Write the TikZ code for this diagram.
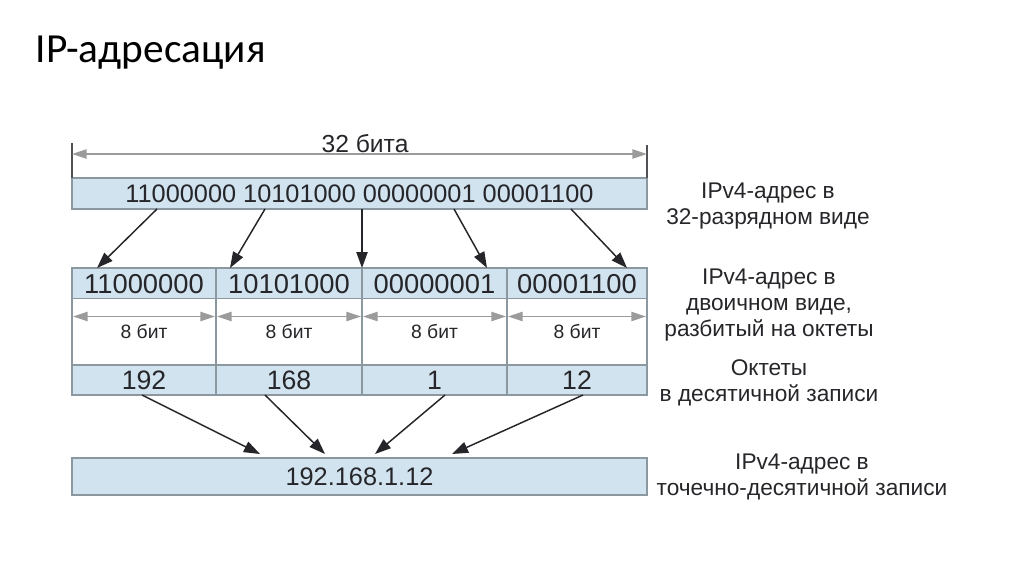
\documentclass[tikz,border=0pt]{standalone}
\usepackage{fontspec}
\setmainfont{Liberation Sans}
\newfontfamily\titlefont{Carlito}
\usetikzlibrary{calc,arrows.meta}

\definecolor{cellblue}{RGB}{209,227,239}
\definecolor{edgegray}{RGB}{140,152,160}
\definecolor{dimgray}{RGB}{155,155,155}
\definecolor{inkgray}{RGB}{38,38,42}

\begin{document}
\begin{tikzpicture}[x=0.75pt, y=-0.75pt,
  bar/.style={draw=edgegray, fill=cellblue, line width=1pt, inner sep=0pt, outer sep=0pt, text=inkgray,
              text height=10pt, text depth=0pt},
  blank/.style={bar, fill=white},
  arr/.style={-{Triangle[length=12pt,width=8.5pt]}, draw=inkgray, fill=inkgray, line width=1.1pt},
  dim/.style={{Triangle[length=11pt,width=7pt]}-{Triangle[length=11pt,width=7pt]}, draw=dimgray, line width=1.1pt},
  tick/.style={draw=inkgray!80, line width=1pt},
  note/.style={align=center, font=\fontsize{17}{19.5}\selectfont, text=inkgray}]

\useasboundingbox (0,0) rectangle (1024,574);

% Title
\node[anchor=base west, font=\titlefont\fontsize{31}{36}\selectfont] (title) at (31,63) {IP-адресация};

% 32-bit address
\node[bar, minimum width=431.25pt, minimum height=23.25pt, font=\fontsize{19}{22}\selectfont, text height=13.6pt]
    (addr) at (359.5,193.5) {11000000 10101000 00000001 00001100};

% Width of the address
\draw[tick] (addr.north west) -- ++(0,-35);
\draw[tick] (addr.north east) -- ++(0,-33);
\draw[dim] ($(addr.north west)+(0,-24)$) -- ($(addr.north east)+(0,-24)$);
\node[font=\fontsize{18.5}{22}\selectfont, text=inkgray] (width) at (365,144) {32 бита};

% Octets
\foreach \i/\l/\r/\b/\d in {1/72/216/11000000/192, 2/216/362/10101000/168, 3/362/507/00000001/1, 4/507/647/00001100/12} {
  \node[bar, minimum width={(\r-\l)*0.75pt}, minimum height=23.25pt, font=\fontsize{20.5}{24}\selectfont, text height=14.7pt]
      (bin\i) at ({(\l+\r)/2},283.5) {\b};
  \node[blank, minimum width={(\r-\l)*0.75pt}, minimum height=49.5pt, font=\fontsize{14.5}{17}\selectfont, text height=10.8pt]
      (bit\i) at ({(\l+\r)/2},331.5) {8 бит};
  \node[bar, minimum width={(\r-\l)*0.75pt}, minimum height=22.5pt, font=\fontsize{20}{23}\selectfont, text height=14.3pt]
      (dec\i) at ({(\l+\r)/2},380) {\d};
  \draw[dim] ($(bit\i.west)+(1,-15)$) -- ($(bit\i.east)+(-1,-15)$);
}

% Address split into octets
\foreach \s/\e in {85/25, 193/158, 290/290, 382/415, 499/555}
  \draw[arr] ($(addr.south west)+(\s,0)$) -- ($(bin1.north west)+(\e,0)$);

% Dotted-decimal address
\node[bar, minimum width=431.25pt, minimum height=27.75pt, font=\fontsize{19}{22}\selectfont, text height=13.6pt]
    (ip) at (359.5,476.5) {192.168.1.12};

\foreach \s/\e in {70/188, 193/253, 373/303, 511/380}
  \draw[arr] ($(dec1.south west)+(\s,0)$) -- ($(ip.north west)+(\e,-4)$);

% Labels
\node[note] (l32) at (768,206) {IPv4-адрес в\\32-разрядном виде};
\node[note] (loct) at (769,305) {IPv4-адрес в\\двоичном виде,\\разбитый на октеты};
\node[note] (ldec) at (769,383) {Октеты\\в десятичной записи};
\node[note] (ldot) at (802,477) {IPv4-адрес в\\точечно-десятичной записи};

\end{tikzpicture}
\end{document}
